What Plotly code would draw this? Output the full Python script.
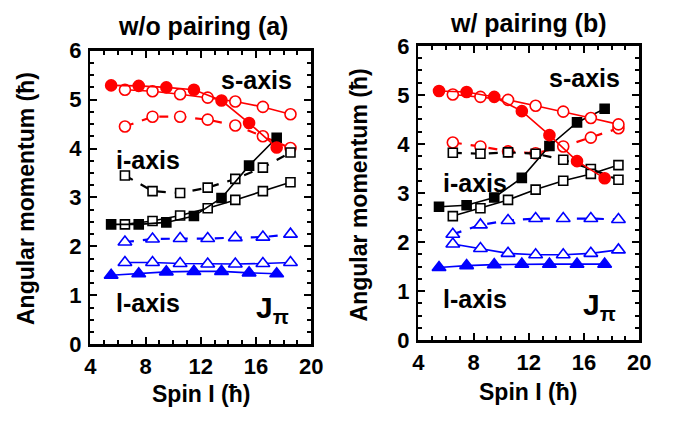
import plotly.graph_objects as go

spin_a = [5.5, 7.5, 9.5, 11.5, 13.5, 15.5, 17.5]
spin_b = [6.5, 8.5, 10.5, 12.5, 14.5, 16.5, 18.5]

# panel (a): w/o pairing
a_s_fill = [5.29, 5.28, 5.25, 5.20, 4.98, 4.52, 4.02]
a_s_open = [5.20, 5.17, 5.11, 5.04, 4.96, 4.85, 4.70]
a_s_dash = [4.45, 4.65, 4.65, 4.59, 4.47, 4.25, 4.01]
a_i_fill = [2.45, 2.45, 2.49, 2.62, 2.99, 3.65, 4.22]
a_i_open = [2.45, 2.52, 2.63, 2.78, 2.95, 3.13, 3.31]
a_i_dash = [3.45, 3.13, 3.09, 3.20, 3.38, 3.61, 3.92]
a_l_fill = [1.41, 1.44, 1.48, 1.49, 1.49, 1.46, 1.44]
a_l_open = [1.67, 1.67, 1.65, 1.64, 1.64, 1.65, 1.67]
a_l_dash = [2.09, 2.15, 2.16, 2.16, 2.18, 2.19, 2.25]

# panel (b): w/ pairing
b_s_fill = [5.08, 5.06, 4.96, 4.67, 4.18, 3.65, 3.30]
b_s_open = [5.01, 4.96, 4.90, 4.78, 4.66, 4.53, 4.40]
b_s_dash = [4.03, 3.95, 3.85, 3.81, 3.95, 4.13, 4.32]
b_i_fill = [2.72, 2.75, 2.91, 3.31, 3.96, 4.44, 4.72]
b_i_open = [2.53, 2.69, 2.86, 3.07, 3.25, 3.39, 3.57]
b_i_dash = [3.82, 3.80, 3.83, 3.80, 3.68, 3.49, 3.27]
b_l_fill = [1.48, 1.52, 1.54, 1.55, 1.55, 1.55, 1.55]
b_l_open = [1.96, 1.87, 1.77, 1.74, 1.74, 1.77, 1.84]
b_l_dash = [2.16, 2.35, 2.44, 2.48, 2.48, 2.48, 2.46]

x_ticks = [4, 8, 12, 16, 20]
y_ticks = [0, 1, 2, 3, 4, 5, 6]

RED, BLACK, BLUE = "#ff0000", "#000000", "#0000ff"
FONT = "Liberation Sans, Arial, sans-serif"

fig = go.Figure()


def add(x, y, color, symbol, filled, dash, axis, size):
    xa, ya = axis
    fig.add_trace(go.Scatter(
        x=x, y=y, mode="lines+markers", xaxis=xa, yaxis=ya,
        line=dict(color=color, width=1.6 if dash == "solid" else 2.2, dash=dash),
        marker=dict(symbol=symbol, size=size,
                    color=color if filled else "white",
                    line=dict(color=color, width=1.6)),
        showlegend=False, cliponaxis=False, hoverinfo="skip"))


panels = [
    (("x", "y"), [a_s_fill, a_s_open, a_s_dash], [a_i_fill, a_i_open, a_i_dash], [a_l_fill, a_l_open, a_l_dash]),
    (("x2", "y2"), [b_s_fill, b_s_open, b_s_dash], [b_i_fill, b_i_open, b_i_dash], [b_l_fill, b_l_open, b_l_dash]),
]
for axis, s, i, l in panels:
    add(spin_b, s[2], RED, "circle", False, "dash", axis, 11)
    add(spin_b, i[2], BLACK, "square", False, "dash", axis, 9)
    add(spin_b, i[1], BLACK, "square", False, "solid", axis, 9)
    add(spin_a, i[0], BLACK, "square", True, "solid", axis, 9)
    add(spin_b, s[1], RED, "circle", False, "solid", axis, 11)
    add(spin_a, s[0], RED, "circle", True, "solid", axis, 11)
    add(spin_b, l[2], BLUE, "triangle-up", False, "dash", axis, 12)
    add(spin_b, l[1], BLUE, "triangle-up", False, "solid", axis, 12)
    add(spin_a, l[0], BLUE, "triangle-up", True, "solid", axis, 12)

W, H = 694, 432


def px(x):
    return x / W


def py(y):
    return 1 - y / H


tickfont = dict(family=FONT, size=22, color="black", weight="bold")
common_x = dict(range=[4, 20], tickvals=x_ticks, ticktext=["<b>%d</b>" % v for v in x_ticks],
                ticks="inside", ticklen=7, tickwidth=2, tickcolor="black", ticklabelstandoff=1,
                minor=dict(ticks="inside", dtick=1, ticklen=4, tickwidth=2, tickcolor="black"),
                showline=True, linewidth=2.5, linecolor="black", mirror="allticks",
                showgrid=False, zeroline=False, tickfont=tickfont, fixedrange=True)
common_y = dict(range=[0, 6], tickvals=y_ticks, ticktext=["<b>%d</b>" % v for v in y_ticks],
                ticks="inside", ticklen=7, tickwidth=2, tickcolor="black", ticklabelstandoff=2,
                minor=dict(ticks="inside", dtick=0.25, ticklen=4, tickwidth=2, tickcolor="black"),
                showline=True, linewidth=2.5, linecolor="black", mirror="allticks",
                showgrid=False, zeroline=False, tickfont=tickfont, fixedrange=True)

fig.update_layout(
    width=W, height=H, margin=dict(l=0, r=0, t=0, b=0),
    paper_bgcolor="white", plot_bgcolor="white", hovermode=False,
    xaxis=dict(domain=[px(86.7), px(313.3)], anchor="y", **common_x),
    yaxis=dict(domain=[py(352.7), py(41)], anchor="x", **common_y),
    xaxis2=dict(domain=[px(423.3), px(650)], anchor="y2", **common_x),
    yaxis2=dict(domain=[py(348.3), py(36)], anchor="x2", **common_y),
)


def f(size):
    return dict(family=FONT, size=size, color="black", weight="bold")


ann = [
    ("<b>w/o pairing (a)</b>", 202, 15, f(25), 0),
    ("<b>w/ pairing (b)</b>", 536, 12, f(25), 0),
    ("<b>Spin I (ħ)</b>", 200, 405, f(23), 0),
    ("<b>Spin I (ħ)</b>", 536, 403, f(23), 0),
    ("<b>Angular momentum (ħ)</b>", 20, 198, f(23), -90),
    ("<b>Angular momentum (ħ)</b>", 362, 194, f(23), -90),
    ("<b>s-axis</b>", 257, 72, f(25), 0),
    ("<b>i-axis</b>", 146, 157, f(25), 0),
    ("<b>l-axis</b>", 146, 309, f(25), 0),
    ("<b>s-axis</b>", 594, 70, f(25), 0),
    ("<b>i-axis</b>", 481, 182, f(25), 0),
    ("<b>l-axis</b>", 481, 305, f(25), 0),
    ("<b>J<sub>π</sub></b>", 274, 316, f(30), 0),
    ("<b>J<sub>π</sub></b>", 609, 313, f(30), 0),
]
for text, x, y, fnt, rot in ann:
    fig.add_annotation(text=text, x=px(x), y=py(y), xref="paper", yref="paper",
                       showarrow=False, font=fnt, textangle=rot,
                       xanchor="center", yanchor="middle")

fig.write_html("out.html", config={"displayModeBar": False, "staticPlot": True},
               post_script="document.body.style.margin='0';document.body.style.overflow='hidden';")
